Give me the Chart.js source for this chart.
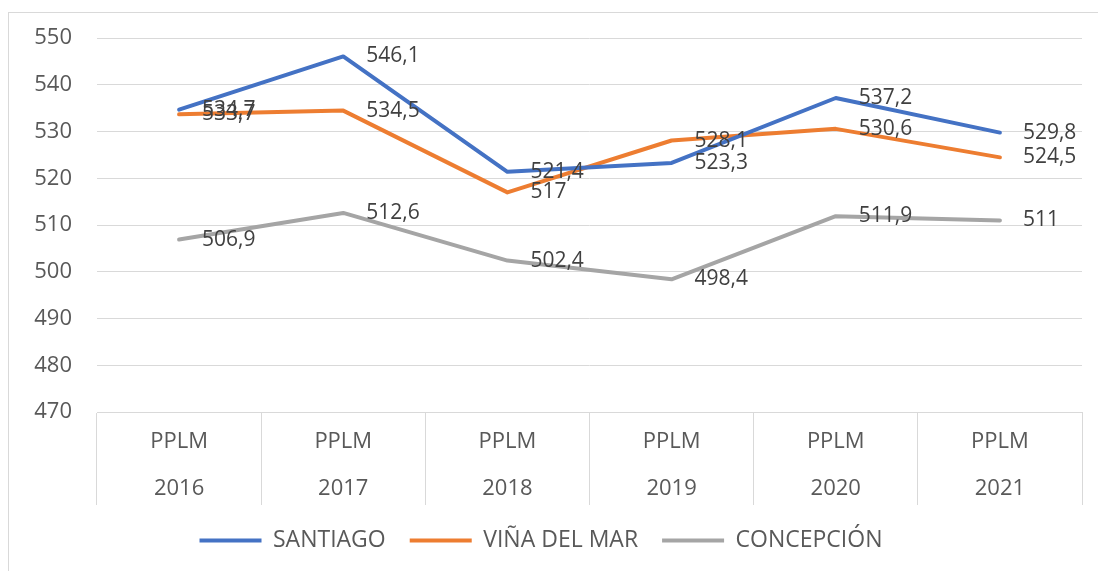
<!DOCTYPE html>
<html>
<head>
<meta charset="utf-8">
<script src="https://cdn.jsdelivr.net/npm/chart.js@4"></script>
<style>
  body{margin:0;background:#fff;}
  #frame{position:absolute;left:8px;top:12px;width:1200px;height:700px;border:1px solid #d9d9d9;}
  #wrap{position:absolute;left:0;top:0;width:1098px;height:571px;}
</style>
</head>
<body>
<div id="frame"></div>
<div id="wrap"><canvas id="chart1" width="1098" height="571"></canvas></div>
<script>
const years = ["2016","2017","2018","2019","2020","2021"];
const santiago = [534.7, 546.1, 521.4, 523.3, 537.2, 529.8];
const vina = [533.7, 534.5, 517, 528.1, 530.6, 524.5];
const concepcion = [506.9, 512.6, 502.4, 498.4, 511.9, 511];
const yTicks = [470, 480, 490, 500, 510, 520, 530, 540, 550];

const FONT = "'Open Sans', 'Liberation Sans', sans-serif";

// valores a la derecha de cada punto, con coma decimal
const valueLabels = {
  id:"valueLabels",
  afterDatasetsDraw(chart){
    const ctx = chart.ctx;
    ctx.save();
    ctx.font = "21px " + FONT;
    ctx.fillStyle = "#404040";
    ctx.textAlign = "left";
    ctx.textBaseline = "middle";
    chart.data.datasets.forEach((ds,i)=>{
      chart.getDatasetMeta(i).data.forEach((pt,j)=>{
        ctx.fillText(String(ds.data[j]).replace(".",","), pt.x+23, pt.y);
      });
    });
    ctx.restore();
  }
};

function line(label, data, color){
  return {label, data, borderColor:color, backgroundColor:color, borderWidth:4,
    pointRadius:0, tension:0, borderCapStyle:"round", borderJoinStyle:"round"};
}

new Chart(document.getElementById("chart1"),{
  type:"line",
  data:{
    labels:years.map(y=>["PPLM", y]),
    datasets:[
      line("SANTIAGO", santiago, "#4472C4"),
      line("VIÑA DEL MAR", vina, "#ED7D31"),
      line("CONCEPCIÓN", concepcion, "#A5A5A5")
    ]
  },
  options:{
    responsive:false,
    animation:false,
    layout:{padding:{top:38,right:16,left:0,bottom:9}},
    plugins:{
      tooltip:{enabled:false},
      legend:{
        position:"bottom",
        labels:{
          usePointStyle:true,
          pointStyle:"line",
          pointStyleWidth:62,
          boxHeight:16,
          padding:24,
          color:"#595959",
          font:{family:FONT,size:23}
        }
      }
    },
    scales:{
      x:{
        offset:true,
        grid:{offset:true, drawOnChartArea:false, tickLength:93, color:"#d9d9d9"},
        border:{color:"#d9d9d9"},
        ticks:{padding:-87, color:"#595959", font:{family:FONT,size:22,lineHeight:47/22}},
        afterFit(s){ s.height = 93; }
      },
      y:{
        min:470, max:550,
        afterBuildTicks(s){ s.ticks = yTicks.map(v=>({value:v})); },
        grid:{color:"#d9d9d9", drawTicks:false},
        border:{display:false},
        ticks:{padding:25, color:"#595959", font:{family:FONT,size:22}},
        afterFit(s){ s.width = 97; }
      }
    }
  },
  plugins:[valueLabels]
});
</script>
</body>
</html>
